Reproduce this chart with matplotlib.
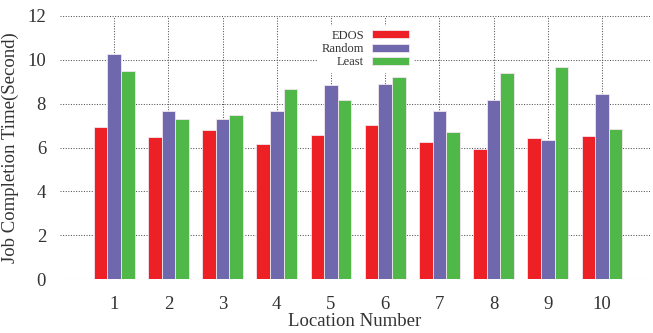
import matplotlib
matplotlib.use("Agg")
import matplotlib.pyplot as plt
import numpy as np
from matplotlib.patches import Rectangle

locations = [1, 2, 3, 4, 5, 6, 7, 8, 9, 10]
edos = [6.92, 6.50, 6.79, 6.18, 6.57, 7.01, 6.25, 5.94, 6.42, 6.53]
random_ = [10.26, 7.66, 7.32, 7.68, 8.83, 8.88, 7.68, 8.18, 6.32, 8.44]
least = [9.50, 7.29, 7.50, 8.65, 8.16, 9.20, 6.70, 9.39, 9.65, 6.86]

SERIES = [("EDOS", edos, "#ed2026"), ("Random", random_, "#7068ad"), ("Least", least, "#50b848")]

plt.rcParams["font.family"] = ["Liberation Serif", "DejaVu Serif"]

fig = plt.figure(figsize=(6.53, 3.33), dpi=100)
ax = fig.add_axes([60 / 653, 1 - 279.3 / 333, 590 / 653, (279.3 - 15.7) / 333])

w = 0.25
x = np.array(locations)
handles = []
for i, (label, vals, color) in enumerate(SERIES):
    ax.bar(x + (i - 1) * w, vals, width=w, color=color, edgecolor="#f2e6ee",
           linewidth=0.6, zorder=2)
    handles.append(Rectangle((0, 0), 1, 1, facecolor=color, edgecolor="#f2e6ee", linewidth=0.6))

ax.set_xlim(0, 590 / 54.2)
ax.set_ylim(0, 12)
ax.set_xticks(locations)
ax.set_yticks(range(0, 13, 2))
ax.grid(True, color="#555555", ls=(0, (1, 1.5)), lw=0.75, zorder=0)
ax.set_axisbelow(True)
for sp in ax.spines.values():
    sp.set_visible(False)
ax.tick_params(length=0, labelsize=13.5, colors="#333333")
ax.tick_params(axis="y", pad=10)
ax.tick_params(axis="x", pad=12)
ax.set_xlabel("Location Number", fontsize=13.5, color="#333333", labelpad=0)
ax.set_ylabel("Job Completion Time(Second)", fontsize=13.5, color="#333333", labelpad=6)

leg = ax.legend(handles, [s[0] for s in SERIES], loc="upper left",
                bbox_to_anchor=(318 / 653, 1 - 26 / 333), bbox_transform=fig.transFigure,
                markerfirst=False, fontsize=9, frameon=True, fancybox=False,
                framealpha=1, edgecolor="white", handlelength=3.0, handleheight=0.6,
                labelspacing=0.1, handletextpad=0.6, borderpad=0.3, borderaxespad=0)
for t in leg.get_texts():
    t.set_ha("right")
    t.set_color("#333333")

fig.savefig("out.png", dpi=100)
